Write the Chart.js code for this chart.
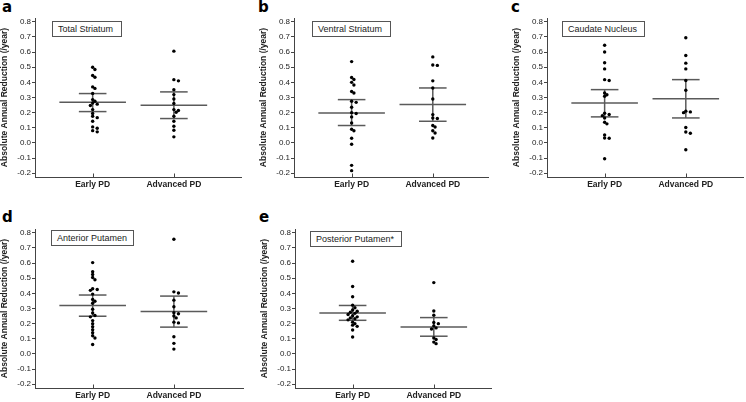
<!DOCTYPE html>
<html>
<head>
<meta charset="utf-8">
<script src="https://cdn.jsdelivr.net/npm/chart.js@4.4.0/dist/chart.umd.min.js"></script>
<style>
  body { margin: 0; background: #fff; width: 746px; height: 402px; overflow: hidden; position: relative; font-family: "Liberation Sans", Arial, sans-serif; }
  canvas { position: absolute; }
  .letter { position: absolute; font: bold 15px "DejaVu Sans", sans-serif; color: #000; line-height: 16px; }
  .tag { position: absolute; height: 16px; border: 1px solid #555; box-sizing: border-box; font-size: 9px; line-height: 14px; padding-left: 5px; color: #222; background: #fff; white-space: nowrap; }
</style>
</head>
<body>
<script>
// values
const categories = ['Early PD', 'Advanced PD'];
const yTicks = [-0.2, -0.1, 0.0, 0.1, 0.2, 0.3, 0.4, 0.5, 0.6, 0.7, 0.8];
const axisTitle = 'Absolute Annual Reduction (/year)';

const totalEarly = [0.50, 0.485, 0.445, 0.434, 0.37, 0.36, 0.326, 0.286, 0.275, 0.264, 0.256, 0.247, 0.22, 0.194, 0.176, 0.167, 0.143, 0.106, 0.097, 0.081, 0.073];
const totalAdvanced = [0.606, 0.418, 0.41, 0.352, 0.319, 0.29, 0.26, 0.22, 0.214, 0.203, 0.176, 0.143, 0.11, 0.084, 0.04];
const totalMean = [0.269, 0.249];
const totalLow = [0.207, 0.161];
const totalHigh = [0.326, 0.337];

const ventralEarly = [0.537, 0.432, 0.419, 0.40, 0.383, 0.34, 0.33, 0.275, 0.268, 0.236, 0.2, 0.194, 0.172, 0.132, 0.09, 0.08, 0.031, -0.009, -0.148, -0.183];
const ventralAdvanced = [0.568, 0.515, 0.512, 0.41, 0.363, 0.29, 0.187, 0.165, 0.161, 0.115, 0.105, 0.08, 0.066, 0.033];
const ventralMean = [0.198, 0.253];
const ventralLow = [0.115, 0.143];
const ventralHigh = [0.286, 0.363];

const caudateEarly = [0.645, 0.6, 0.529, 0.489, 0.418, 0.412, 0.33, 0.318, 0.308, 0.196, 0.188, 0.18, 0.165, 0.137, 0.126, 0.052, 0.033, 0.031, -0.104];
const caudateAdvanced = [0.695, 0.577, 0.527, 0.489, 0.412, 0.348, 0.21, 0.205, 0.2, 0.102, 0.072, 0.064, -0.045];
const caudateMean = [0.264, 0.291];
const caudateLow = [0.172, 0.165];
const caudateHigh = [0.352, 0.418];

const anteriorEarly = [0.603, 0.543, 0.525, 0.505, 0.49, 0.43, 0.425, 0.42, 0.395, 0.36, 0.348, 0.335, 0.295, 0.27, 0.254, 0.245, 0.22, 0.2, 0.18, 0.16, 0.14, 0.12, 0.105, 0.062];
const anteriorAdvanced = [0.757, 0.41, 0.402, 0.355, 0.312, 0.272, 0.265, 0.25, 0.238, 0.21, 0.205, 0.113, 0.07, 0.032];
const anteriorMean = [0.32, 0.28];
const anteriorLow = [0.249, 0.177];
const anteriorHigh = [0.389, 0.382];

const posteriorEarly = [0.612, 0.445, 0.378, 0.322, 0.305, 0.29, 0.282, 0.275, 0.268, 0.26, 0.252, 0.245, 0.238, 0.232, 0.225, 0.21, 0.2, 0.19, 0.182, 0.158, 0.112];
const posteriorAdvanced = [0.471, 0.283, 0.255, 0.208, 0.2, 0.185, 0.172, 0.165, 0.105, 0.095, 0.078, 0.068];
const posteriorMean = [0.271, 0.178];
const posteriorLow = [0.222, 0.117];
const posteriorHigh = [0.32, 0.24];

const panels = [
  { letter: 'a', name: 'Total Striatum', early: totalEarly, advanced: totalAdvanced, mean: totalMean, low: totalLow, high: totalHigh,
    left: 0, top: 0, area: 208, tag: [52, 21, 70] },
  { letter: 'b', name: 'Ventral Striatum', early: ventralEarly, advanced: ventralAdvanced, mean: ventralMean, low: ventralLow, high: ventralHigh,
    left: 259, top: 0, area: 196, tag: [312, 21, 79] },
  { letter: 'c', name: 'Caudate Nucleus', early: caudateEarly, advanced: caudateAdvanced, mean: caudateMean, low: caudateLow, high: caudateHigh,
    left: 512, top: 0, area: 198, tag: [562, 21, 83] },
  { letter: 'd', name: 'Anterior Putamen', early: anteriorEarly, advanced: anteriorAdvanced, mean: anteriorMean, low: anteriorLow, high: anteriorHigh,
    left: 0, top: 211, area: 210, tag: [51, 230, 83] },
  { letter: 'e', name: 'Posterior Putamen*', early: posteriorEarly, advanced: posteriorAdvanced, mean: posteriorMean, low: posteriorLow, high: posteriorHigh,
    left: 260, top: 211, area: 198, tag: [310, 231, 92] }
];

const X_MIN = 0.29;
const PX_PER_CAT = 82;
const PX_PER_Y = 151;

// spread overlapping dots sideways, like the original scatter
function swarm(values, cat) {
  const placed = [];
  return values.map(v => {
    const py = v * PX_PER_Y;
    let off = 0;
    for (let k = 0; k < 14; k++) {
      const cand = k === 0 ? 0 : (k % 2 ? 1 : -1) * Math.ceil(k / 2) * 2.3;
      if (placed.every(p => Math.hypot(p.x - cand, p.y - py) >= 2.7)) { off = cand; break; }
    }
    placed.push({ x: off, y: py });
    return { x: cat + off / PX_PER_CAT, y: v };
  });
}

const errorBars = {
  id: 'errorBars',
  beforeDatasetsDraw(chart, args, opts) {
    const { ctx, scales: { x, y } } = chart;
    const seg = (x0, y0, x1, y1) => {
      ctx.beginPath();
      ctx.moveTo(x.getPixelForValue(x0), y.getPixelForValue(y0));
      ctx.lineTo(x.getPixelForValue(x1), y.getPixelForValue(y1));
      ctx.stroke();
    };
    ctx.save();
    ctx.strokeStyle = '#5a5a5a';
    ctx.lineWidth = 1.5;
    opts.mean.forEach((m, i) => {
      const c = i + 1;
      seg(c, opts.low[i], c, opts.high[i]);
      seg(c - 0.41, m, c + 0.41, m);
      seg(c - 0.17, opts.low[i], c + 0.17, opts.low[i]);
      seg(c - 0.17, opts.high[i], c + 0.17, opts.high[i]);
    });
    // small inward ticks at the categories
    ctx.strokeStyle = '#444';
    ctx.lineWidth = 1;
    [1, 2].forEach(c => {
      const px = Math.round(x.getPixelForValue(c)) + 0.5;
      ctx.beginPath();
      ctx.moveTo(px, y.bottom);
      ctx.lineTo(px, y.bottom - 3.5);
      ctx.stroke();
    });
    ctx.restore();
  }
};

panels.forEach(p => {
  const letter = document.createElement('div');
  letter.className = 'letter';
  letter.textContent = p.letter;
  letter.style.left = (p.left === 0 ? 2 : p.left - 1) + 'px';
  letter.style.top = (p.top === 0 ? -1 : p.top - 2) + 'px';
  document.body.appendChild(letter);

  const canvas = document.createElement('canvas');
  canvas.width = 35 + p.area + 2;
  canvas.height = 190;
  canvas.style.left = p.left + 'px';
  canvas.style.top = p.top + 'px';
  document.body.appendChild(canvas);

  const dotStyle = { pointRadius: 1.7, pointBackgroundColor: '#000', pointBorderWidth: 0, showLine: false };

  new Chart(canvas, {
    type: 'scatter',
    data: {
      datasets: [
        Object.assign({ label: categories[0], data: swarm(p.early, 1) }, dotStyle),
        Object.assign({ label: categories[1], data: swarm(p.advanced, 2) }, dotStyle)
      ]
    },
    options: {
      responsive: false,
      animation: false,
      layout: { padding: { top: 18, right: 2, left: 0, bottom: 0 } },
      plugins: {
        legend: { display: false },
        tooltip: { enabled: false },
        errorBars: { mean: p.mean, low: p.low, high: p.high }
      },
      scales: {
        x: {
          type: 'linear',
          min: X_MIN,
          max: X_MIN + p.area / PX_PER_CAT,
          afterBuildTicks: s => { s.ticks = [{ value: 1 }, { value: 2 }]; },
          afterFit: s => { s.height = 13; },
          ticks: {
            callback: v => categories[v - 1],
            font: { family: '"Liberation Sans", Arial, sans-serif', size: 8.5, weight: 'bold' },
            color: '#222',
            padding: 3,
            maxRotation: 0,
            autoSkip: false
          },
          grid: { display: false, drawTicks: false },
          border: { color: '#444', width: 1 }
        },
        y: {
          min: -0.225,
          max: 0.825,
          afterBuildTicks: s => { s.ticks = yTicks.map(v => ({ value: v })); },
          afterFit: s => { s.width = 35; },
          ticks: {
            callback: v => v.toFixed(1),
            font: { family: '"Liberation Sans", Arial, sans-serif', size: 8 },
            color: '#222',
            padding: 1
          },
          grid: { drawOnChartArea: false, tickLength: 3, color: '#444' },
          border: { color: '#444', width: 1 },
          title: {
            display: true,
            text: axisTitle,
            font: { family: '"Liberation Sans", Arial, sans-serif', size: 8.5, weight: 'bold' },
            color: '#222',
            padding: 0
          }
        }
      }
    },
    plugins: [errorBars]
  });

  const tag = document.createElement('div');
  tag.className = 'tag';
  tag.textContent = p.name;
  tag.style.left = p.tag[0] + 'px';
  tag.style.top = p.tag[1] + 'px';
  tag.style.width = p.tag[2] + 'px';
  document.body.appendChild(tag);
});
</script>
</body>
</html>
